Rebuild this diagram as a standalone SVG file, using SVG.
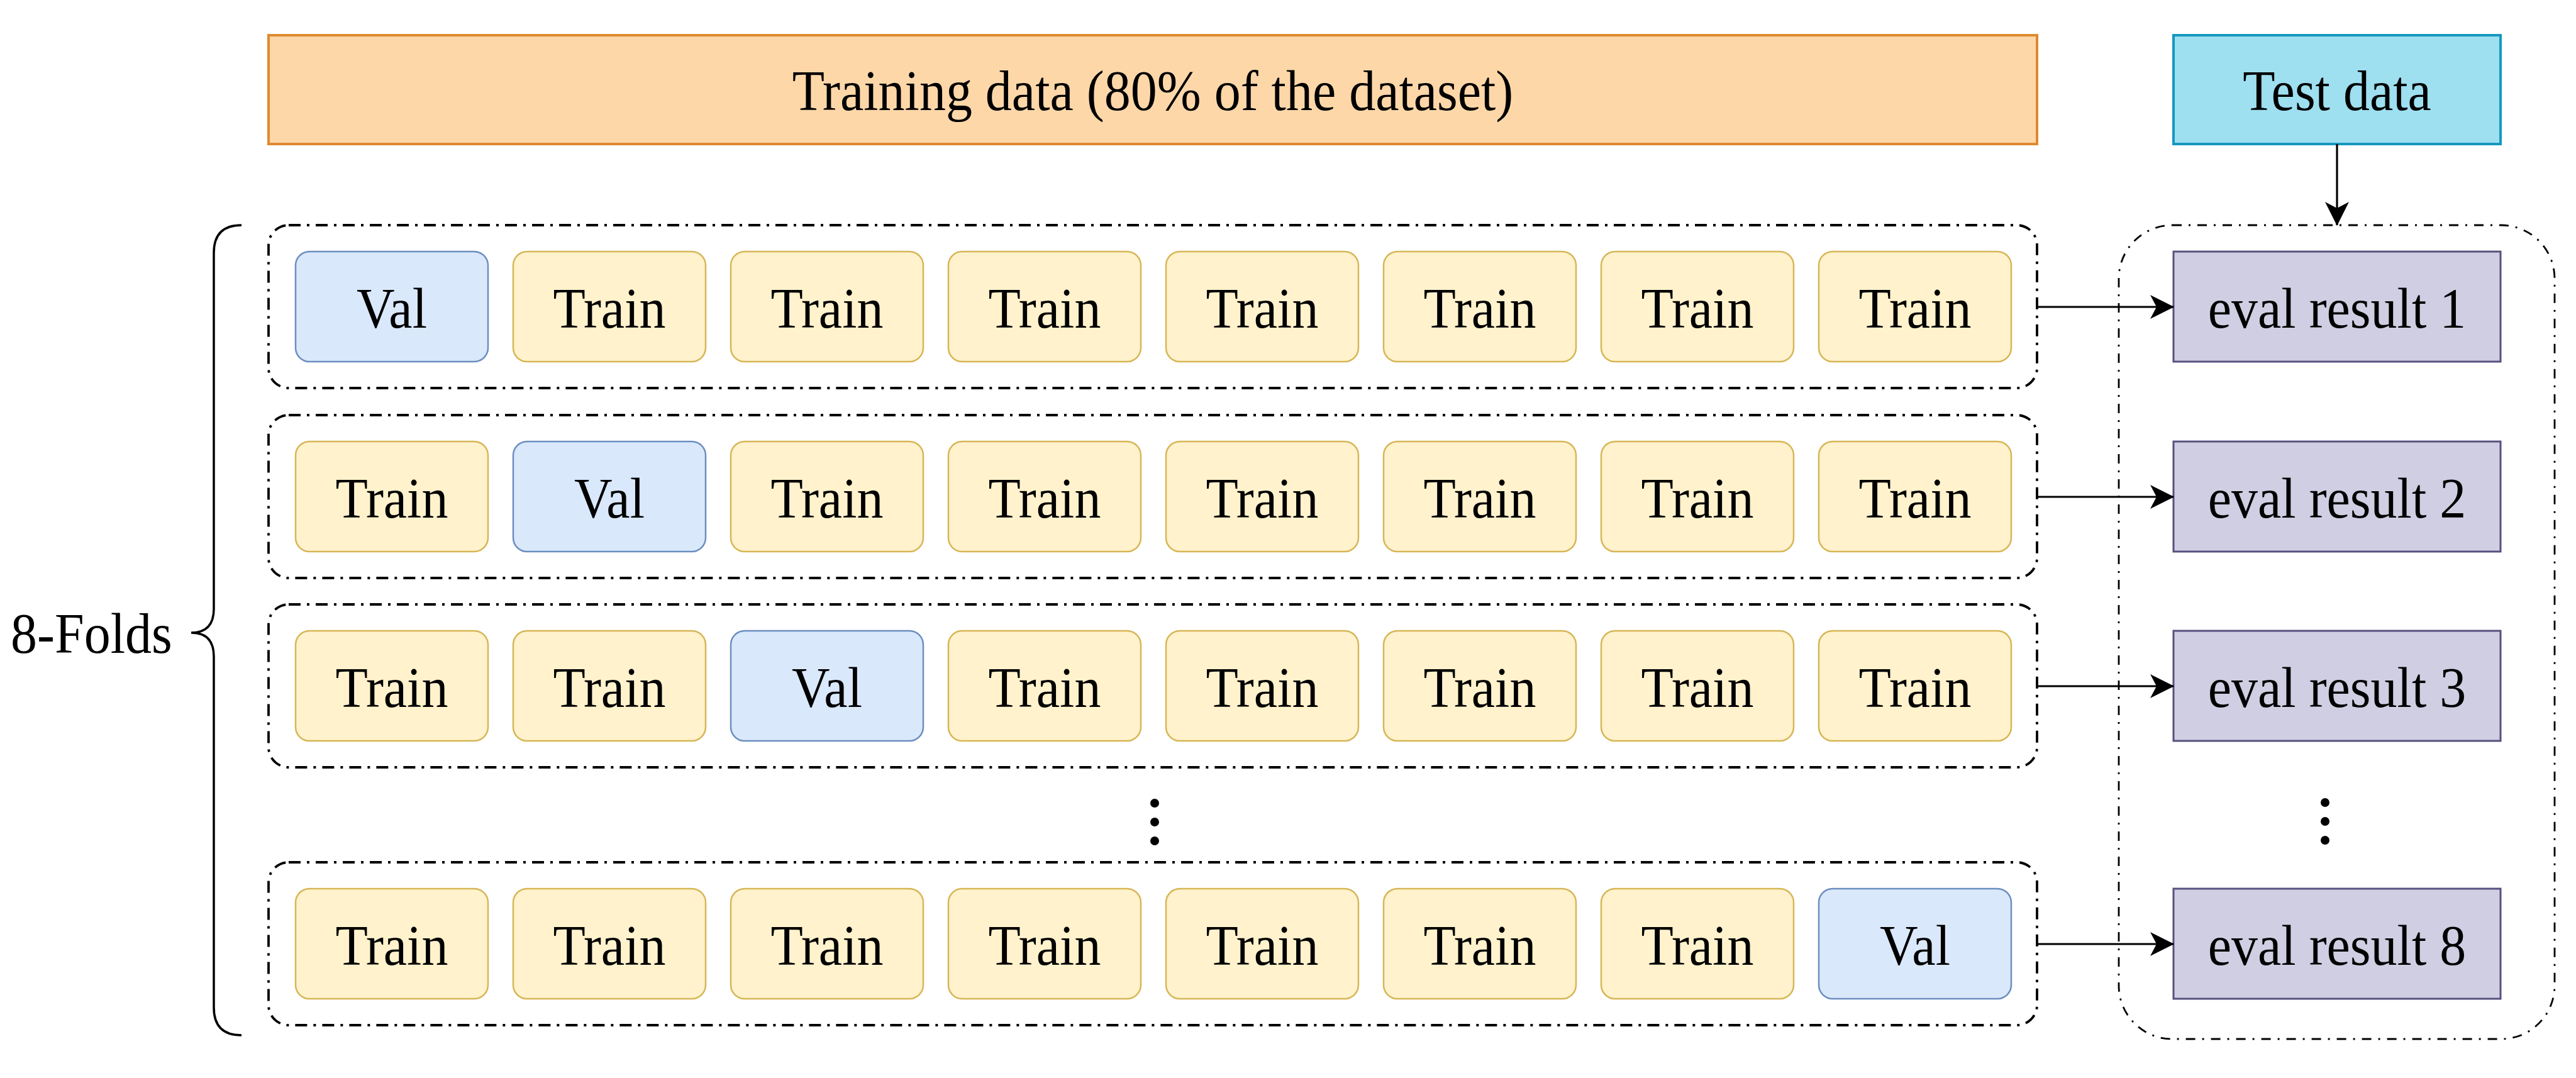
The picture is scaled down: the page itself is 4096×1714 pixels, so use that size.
<svg xmlns="http://www.w3.org/2000/svg" width="4096" height="1714" viewBox="0 0 4096 1714">
<defs>
<style>
text{font-family:"Liberation Serif","Times New Roman",serif;font-size:84px;fill:#000;text-anchor:middle;transform-box:fill-box;transform-origin:center;transform:scaleY(1.08)}
.train{fill:#fff2cc;stroke:#d6b656;stroke-width:2.5}
.val{fill:#dae8fc;stroke:#6c8ebf;stroke-width:2.5}
.eval{fill:#d0cee2;stroke:#56517e;stroke-width:3}
.grp{fill:none;stroke:#000;stroke-width:3.8;stroke-dasharray:19 10 4 10}
.grp2{fill:none;stroke:#000;stroke-width:2.8;stroke-dasharray:15 11 3 11}
.conn{stroke:#000;stroke-width:3.2;fill:none;marker-end:url(#arr)}
</style>
<marker id="arr" viewBox="0 0 38 38" markerWidth="38" markerHeight="38" refX="37" refY="19" markerUnits="userSpaceOnUse" orient="auto">
<path d="M0,0 L38,19 L0,38 L10,19 Z" fill="#000"/>
</marker>
</defs>
<rect width="4096" height="1714" fill="#fff"/>

<g id="training-data">
<rect x="427" y="56" width="2812" height="173" fill="#fed7a9" stroke="#de8a2e" stroke-width="4"/>
<text x="1833" y="173">Training data (80% of the dataset)</text>
</g>
<g id="test-data">
<rect x="3456" y="56" width="520" height="173" fill="#9edff0" stroke="#1498c0" stroke-width="4"/>
<text x="3716" y="173">Test data</text>
</g>

<g id="folds-label">
<path d="M384,358 Q340,358 340,402 L340,968 Q340,1006 304,1006 Q340,1006 340,1044 L340,1602 Q340,1646 384,1646" fill="none" stroke="#000" stroke-width="3.5"/>
<text x="17" y="1036" style="text-anchor:start">8-Folds</text>
</g>

<g id="fold-1">
<rect class="grp" x="427" y="358" width="2812" height="259" rx="32"/>
<rect class="val" x="470" y="400" width="306" height="175" rx="22"/><text x="623" y="519">Val</text>
<rect class="train" x="816" y="400" width="306" height="175" rx="22"/><text x="969" y="519">Train</text>
<rect class="train" x="1162" y="400" width="306" height="175" rx="22"/><text x="1315" y="519">Train</text>
<rect class="train" x="1508" y="400" width="306" height="175" rx="22"/><text x="1661" y="519">Train</text>
<rect class="train" x="1854" y="400" width="306" height="175" rx="22"/><text x="2007" y="519">Train</text>
<rect class="train" x="2200" y="400" width="306" height="175" rx="22"/><text x="2353" y="519">Train</text>
<rect class="train" x="2546" y="400" width="306" height="175" rx="22"/><text x="2699" y="519">Train</text>
<rect class="train" x="2892" y="400" width="306" height="175" rx="22"/><text x="3045" y="519">Train</text>
</g>

<g id="fold-2">
<rect class="grp" x="427" y="660" width="2812" height="259" rx="32"/>
<rect class="train" x="470" y="702" width="306" height="175" rx="22"/><text x="623" y="821">Train</text>
<rect class="val" x="816" y="702" width="306" height="175" rx="22"/><text x="969" y="821">Val</text>
<rect class="train" x="1162" y="702" width="306" height="175" rx="22"/><text x="1315" y="821">Train</text>
<rect class="train" x="1508" y="702" width="306" height="175" rx="22"/><text x="1661" y="821">Train</text>
<rect class="train" x="1854" y="702" width="306" height="175" rx="22"/><text x="2007" y="821">Train</text>
<rect class="train" x="2200" y="702" width="306" height="175" rx="22"/><text x="2353" y="821">Train</text>
<rect class="train" x="2546" y="702" width="306" height="175" rx="22"/><text x="2699" y="821">Train</text>
<rect class="train" x="2892" y="702" width="306" height="175" rx="22"/><text x="3045" y="821">Train</text>
</g>

<g id="fold-3">
<rect class="grp" x="427" y="961" width="2812" height="259" rx="32"/>
<rect class="train" x="470" y="1003" width="306" height="175" rx="22"/><text x="623" y="1122">Train</text>
<rect class="train" x="816" y="1003" width="306" height="175" rx="22"/><text x="969" y="1122">Train</text>
<rect class="val" x="1162" y="1003" width="306" height="175" rx="22"/><text x="1315" y="1122">Val</text>
<rect class="train" x="1508" y="1003" width="306" height="175" rx="22"/><text x="1661" y="1122">Train</text>
<rect class="train" x="1854" y="1003" width="306" height="175" rx="22"/><text x="2007" y="1122">Train</text>
<rect class="train" x="2200" y="1003" width="306" height="175" rx="22"/><text x="2353" y="1122">Train</text>
<rect class="train" x="2546" y="1003" width="306" height="175" rx="22"/><text x="2699" y="1122">Train</text>
<rect class="train" x="2892" y="1003" width="306" height="175" rx="22"/><text x="3045" y="1122">Train</text>
</g>

<g id="fold-dots">
<circle cx="1836" cy="1277" r="7"/><circle cx="1836" cy="1307" r="7"/><circle cx="1836" cy="1337" r="7"/>
</g>

<g id="fold-8">
<rect class="grp" x="427" y="1371" width="2812" height="259" rx="32"/>
<rect class="train" x="470" y="1413" width="306" height="175" rx="22"/><text x="623" y="1532">Train</text>
<rect class="train" x="816" y="1413" width="306" height="175" rx="22"/><text x="969" y="1532">Train</text>
<rect class="train" x="1162" y="1413" width="306" height="175" rx="22"/><text x="1315" y="1532">Train</text>
<rect class="train" x="1508" y="1413" width="306" height="175" rx="22"/><text x="1661" y="1532">Train</text>
<rect class="train" x="1854" y="1413" width="306" height="175" rx="22"/><text x="2007" y="1532">Train</text>
<rect class="train" x="2200" y="1413" width="306" height="175" rx="22"/><text x="2353" y="1532">Train</text>
<rect class="train" x="2546" y="1413" width="306" height="175" rx="22"/><text x="2699" y="1532">Train</text>
<rect class="val" x="2892" y="1413" width="306" height="175" rx="22"/><text x="3045" y="1532">Val</text>
</g>

<g id="results">
<rect class="grp2" x="3369" y="358" width="693" height="1294" rx="85"/>
<g id="eval-1"><rect class="eval" x="3456" y="400" width="520" height="175"/><text x="3716" y="519">eval result 1</text></g>
<g id="eval-2"><rect class="eval" x="3456" y="702" width="520" height="175"/><text x="3716" y="821">eval result 2</text></g>
<g id="eval-3"><rect class="eval" x="3456" y="1003" width="520" height="175"/><text x="3716" y="1122">eval result 3</text></g>
<g id="eval-dots"><circle cx="3697" cy="1276" r="7"/><circle cx="3697" cy="1306" r="7"/><circle cx="3697" cy="1336" r="7"/></g>
<g id="eval-8"><rect class="eval" x="3456" y="1413" width="520" height="175"/><text x="3716" y="1532">eval result 8</text></g>
</g>

<g id="connectors">
<line class="conn" x1="3716" y1="229" x2="3716" y2="358"/>
<line class="conn" x1="3239" y1="488" x2="3456" y2="488"/>
<line class="conn" x1="3239" y1="790" x2="3456" y2="790"/>
<line class="conn" x1="3239" y1="1091" x2="3456" y2="1091"/>
<line class="conn" x1="3239" y1="1501" x2="3456" y2="1501"/>
</g>
</svg>
